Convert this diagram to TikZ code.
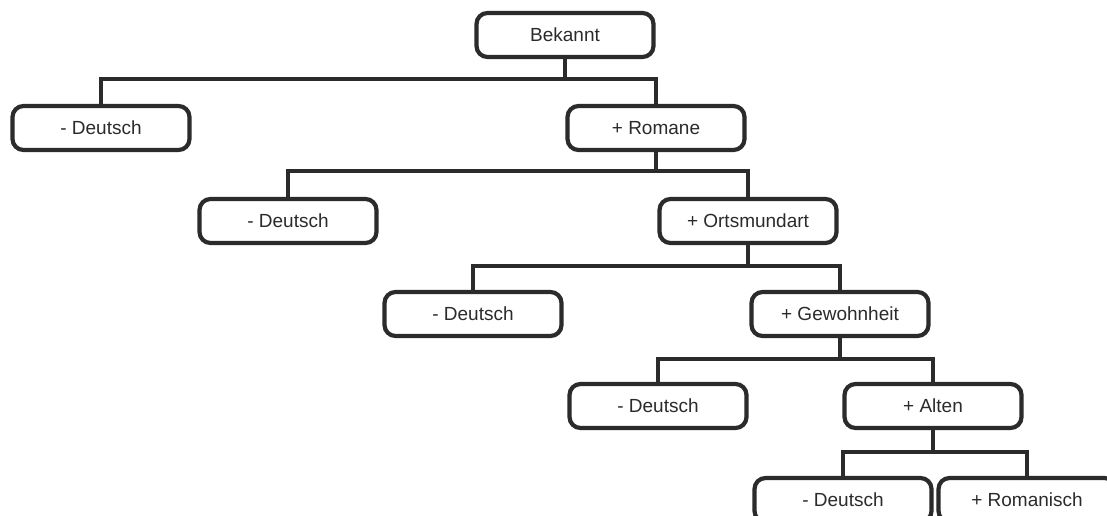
\documentclass[tikz,border=0pt]{standalone}
\usepackage{fontspec}
\setmainfont{Liberation Sans}
\usetikzlibrary{calc}
\definecolor{inkgray}{HTML}{2B2B2B}

\begin{document}
\begin{tikzpicture}[x=1pt, y=-1pt,
		box/.style={draw=inkgray, line width=4.2pt, rounded corners=11pt, fill=white,
			minimum width=177pt, minimum height=44pt, inner sep=0pt,
			text=inkgray, font=\fontsize{19}{21}\selectfont},
		link/.style={draw=inkgray, line width=3.6pt}]
		%%%%% START %%%%%
		
		\useasboundingbox (0, 0) rectangle (1107, 516);
		\clip (0, 0) rectangle (1107, 516);
		
		\node[box] (bek) at (565, 35) {Bekannt};
		
		\node[box] (deu1) at (101, 128) {- Deutsch};
		\node[box] (rom) at (656, 128) {+ Romane};
		
		\node[box] (deu2) at (288, 221) {- Deutsch};
		\node[box] (ort) at (748, 221) {+ Ortsmundart};
		
		\node[box] (deu3) at (473, 314) {- Deutsch};
		\node[box] (gew) at (840, 314) {+ Gewohnheit};
		
		\node[box] (deu4) at (658, 406) {- Deutsch};
		\node[box] (alt) at (933, 406) {+ Alten};
		
		\node[box] (deu5) at (843, 500) {- Deutsch};
		\node[box] (rmn) at (1027, 500) {+ Romanisch};
		
		\draw[link] (bek.south) -- ++(0, 20) -| (deu1.north);
		\draw[link] (bek.south) -- ++(0, 20) -| (rom.north);
		
		\draw[link] (rom.south) -- ++(0, 19) -| (deu2.north);
		\draw[link] (rom.south) -- ++(0, 19) -| (ort.north);
		
		\draw[link] (ort.south) -- ++(0, 21) -| (deu3.north);
		\draw[link] (ort.south) -- ++(0, 21) -| (gew.north);
		
		\draw[link] (gew.south) -- ++(0, 21) -| (deu4.north);
		\draw[link] (gew.south) -- ++(0, 21) -| (alt.north);
		
		\draw[link] (alt.south) -- ++(0, 22) -| (deu5.north);
		\draw[link] (alt.south) -- ++(0, 22) -| (rmn.north);
		
		%%%%% END %%%%%
	\end{tikzpicture}
\end{document}
